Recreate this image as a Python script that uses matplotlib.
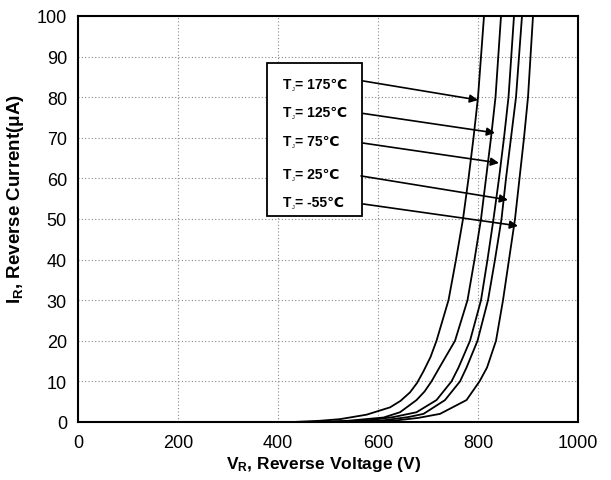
import matplotlib.pyplot as plt

plt.rcParams['font.family'] = ['Liberation Sans', 'DejaVu Sans']
plt.rcParams['mathtext.fontset'] = 'custom'
plt.rcParams['mathtext.rm'] = 'Liberation Sans'
plt.rcParams['mathtext.bf'] = 'Liberation Sans:bold'

# Reverse current (uA) vs reverse voltage (V), one curve per junction temperature
labels = ['175', '125', '75', '25', '-55']
v175 = [430, 484, 524, 577, 624, 645, 664, 678, 691, 705, 717, 741, 756, 770, 781, 791, 800, 812]
i175 = [0, 0.3, 0.7, 1.8, 3.6, 5.2, 7.3, 9.6, 12.5, 16, 20, 30, 40, 50, 60, 70, 80, 100]
v125 = [470, 540, 611, 644, 677, 693, 707, 727, 754, 779, 793, 806, 816, 826, 835, 846]
i125 = [0, 0.3, 1.1, 2.4, 5.4, 7.5, 10, 14.3, 20, 30, 40, 50, 60, 70, 80, 100]
v75 = [510, 580, 630, 677, 717, 747, 761, 784, 806, 819, 831, 842, 852, 861, 872]
i75 = [0, 0.4, 1.2, 2.4, 5.4, 10, 13.4, 20, 30, 40, 50, 60, 70, 80, 100]
v25 = [540, 610, 660, 691, 734, 764, 777, 799, 820, 834, 847, 856, 866, 876, 888]
i25 = [0, 0.4, 1.2, 2, 5.4, 10, 13.4, 20, 30, 40, 50, 60, 70, 80, 100]
vm55 = [570, 630, 680, 724, 777, 803, 818, 836, 850, 862, 874, 883, 892, 900, 910]
im55 = [0, 0.3, 1, 2, 5.4, 10, 13.4, 20, 30, 40, 50, 60, 70, 80, 100]

# annotation arrows: text position (V, uA), arrow tail and tip (V, uA)
text_v = [410, 410, 410, 410, 410]
text_i = [83.3, 76.4, 69.2, 61.1, 54.2]
tail_v = [570, 570, 570, 566, 570]
tail_i = [84, 76, 68.7, 60.6, 53.7]
tip_v = [800, 834, 842, 860, 880]
tip_i = [79.3, 71.2, 63.8, 54.7, 48.3]

fig = plt.figure(figsize=(6.11, 4.81), dpi=100)
ax = fig.add_axes([0.1277, 0.1206, 0.8183, 0.8441])

for v, i in [(v175, i175), (v125, i125), (v75, i75), (v25, i25), (vm55, im55)]:
    ax.plot(v, i, color='black', lw=1.3)

ax.set_xlim(0, 1000)
ax.set_ylim(0, 100)
ax.set_xticks(range(0, 1001, 200))
ax.set_yticks(range(0, 101, 10))
ax.tick_params(length=0, labelsize=13)
ax.tick_params(axis='x', pad=9)
ax.tick_params(axis='y', pad=8)
ax.grid(True, color='#888888', linestyle=(0, (1, 2)), linewidth=0.8)
for s in ax.spines.values():
    s.set_linewidth(1.5)

ax.set_xlabel(r'$\mathbf{V_R}$, Reverse Voltage (V)', fontsize=12.5, fontweight='bold')
ax.set_ylabel(r'$\mathbf{I_R}$, Reverse Current(μA)', fontsize=13.5, fontweight='bold')
ax.xaxis.set_label_coords(0.492, -0.08)
ax.yaxis.set_label_coords(-0.104, 0.552)

# label box
ax.add_patch(plt.Rectangle((378, 50.7), 190, 37.7, facecolor='white',
                           edgecolor='black', lw=1.3, zorder=3))
for k in range(len(labels)):
    xy = (text_v[k], text_i[k])
    ax.annotate('T', xy, fontsize=10, fontweight='bold', va='center', ha='left', zorder=4)
    ax.annotate('J', xy, xytext=(6.6, -3.5), textcoords='offset points', fontsize=4,
                va='center', ha='left', zorder=4)
    ax.annotate('= ' + labels[k] + '℃', xy, xytext=(8.6, 0), textcoords='offset points',
                fontsize=10, fontweight='bold', va='center', ha='left', zorder=4)
    ax.annotate('', xy=(tip_v[k], tip_i[k]), xytext=(tail_v[k], tail_i[k]),
                arrowprops=dict(arrowstyle='-|>', color='black', lw=1.2,
                                mutation_scale=12, shrinkA=0, shrinkB=0), zorder=4)

fig.savefig('out.png', dpi=100)
